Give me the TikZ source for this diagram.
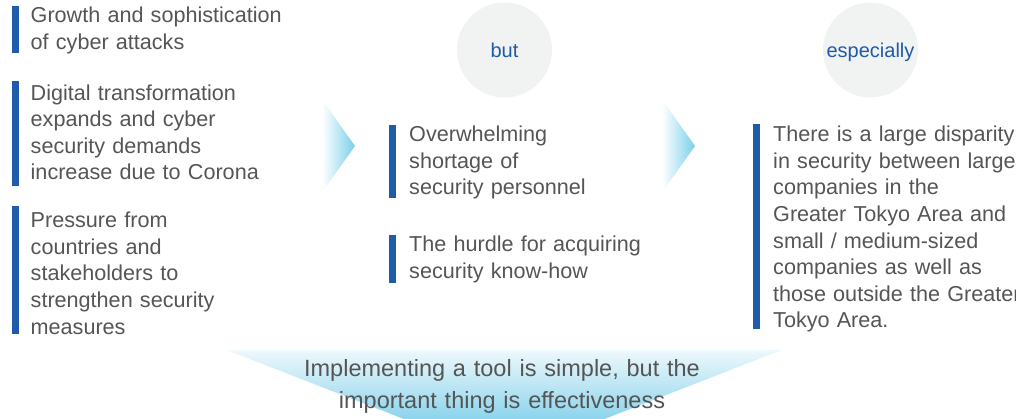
\documentclass[tikz,border=0pt]{standalone}
\usepackage{fontspec}
\setmainfont{Liberation Sans}
\definecolor{barblue}{HTML}{1E5BA8}
\definecolor{txtgray}{HTML}{555555}
\definecolor{circgray}{HTML}{F1F2F2}
\definecolor{arrowblue}{HTML}{7ACFEA}
\definecolor{funneltop}{HTML}{EEF8FC}
\definecolor{funnelbot}{HTML}{55C0E4}

\begin{document}
\begin{tikzpicture}[x=1pt, y=-1pt,
    bar/.style={fill=barblue},
    point/.style={anchor=base west, inner sep=0pt, text width=300pt, align=left, text=txtgray, font=\fontsize{21.6}{26.6}\selectfont},
    hint/.style={circle, fill=circgray, minimum size=95pt, inner sep=0pt},
    hintlabel/.style={anchor=base, inner sep=0pt, text=barblue, font=\fontsize{20}{22}\selectfont},
    chevron/.style={left color=white, right color=arrowblue}]
        \useasboundingbox (0,0) rectangle (1016,418);
        \clip (0,0) rectangle (1016,418);

        % causes
        \fill[bar] (12,6) rectangle (19,53);
        \node[point] (attacks) at (30.5,22.7) {Growth and sophistication\\of cyber attacks};
        \fill[bar] (12,81) rectangle (19,186);
        \node[point] (corona) at (30.5,100) {Digital transformation\\expands and cyber\\security demands\\increase due to Corona};
        \fill[bar] (12,206) rectangle (19,334);
        \node[point] (pressure) at (30.5,227.7) {Pressure from\\countries and\\stakeholders to\\strengthen security\\measures};

        % but
        \shade[chevron] (322,99.5) -- (355,146) -- (322,192.5) -- cycle;
        \node[hint] (but) at (504.5,50) {};
        \node[hintlabel] (butlabel) at (504.5,57) {but};
        \fill[bar] (388.5,125) rectangle (396,198);
        \node[point] (shortage) at (409,141.7) {Overwhelming\\shortage of\\security personnel};
        \fill[bar] (388.5,235) rectangle (396,283);
        \node[point] (hurdle) at (409,251.7) {The hurdle for acquiring\\security know-how};

        % especially
        \shade[chevron] (662,99.5) -- (695,146) -- (662,192.5) -- cycle;
        \node[hint] (especially) at (870.5,50) {};
        \node[hintlabel] (especiallylabel) at (870.5,57) {especially};
        \fill[bar] (753,124) rectangle (760,329);
        \node[point] (disparity) at (773,141.7) {There is a large disparity\\in security between large\\companies in the\\Greater Tokyo Area and\\small / medium-sized\\companies as well as\\those outside the Greater\\Tokyo Area.};

        % conclusion
        \shade[top color=funneltop, bottom color=funnelbot] (226.7,350) -- (781.7,350) -- (504.2,458) -- cycle;
        \node[anchor=base, inner sep=0pt, text width=500pt, align=center, text=txtgray, font=\fontsize{23.5}{32}\selectfont] (message) at (502,376.7) {Implementing a tool is simple, but the\\important thing is effectiveness};
      \end{tikzpicture}
\end{document}
